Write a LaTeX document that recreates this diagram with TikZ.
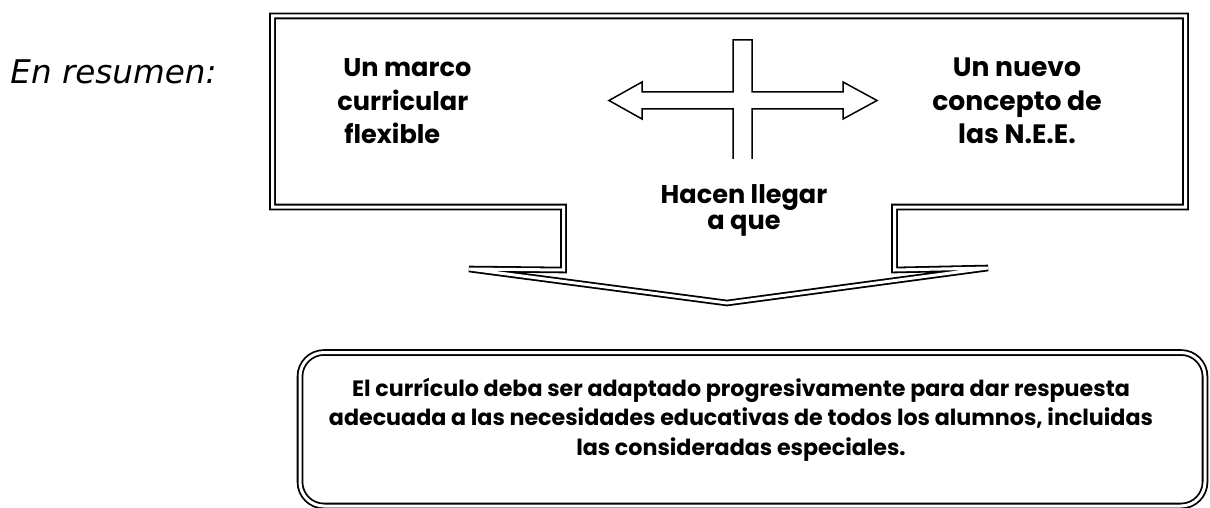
\documentclass[tikz,border=0pt]{standalone}
\usepackage{fontspec}
\setmainfont{Poppins}
\newfontfamily\resumenfont{DejaVu Sans}
\tikzset{
  dblline/.style={draw=black,line width=0.9pt,double=white,double distance=1.5pt,line join=miter,miter limit=2},
  crossline/.style={draw=black,line width=0.75pt,line join=miter},
  boxtext/.style={font=\bfseries\fontsize{12.8}{16.5}\selectfont,inner sep=0pt},
  restext/.style={font=\bfseries\fontsize{11.1}{14.7}\selectfont,inner sep=0pt,align=center}
}
\begin{document}
\begin{tikzpicture}[x=0.5pt,y=-0.5pt]
\useasboundingbox (0,0) rectangle (1210,508);
% the callout box with its arrow
\draw[dblline] (272.5,16) -- (1185.5,16) -- (1185.5,207) -- (894.5,207) -- (894.5,270)
  -- (988,268) -- (727,303) -- (469,269) -- (563.5,270) -- (563.5,207) -- (272.5,207) -- cycle;
% the cross with two heads
\draw[crossline] (733,159) -- (733,109) -- (642,109) -- (642,119) -- (609,100.5) -- (642,82)
  -- (642,92) -- (733,92) -- (733,40) -- (752,40) -- (752,92) -- (843,92) -- (843,82)
  -- (877,100.5) -- (843,119) -- (843,109) -- (752,109) -- (752,159);
% the result box
\draw[dblline,rounded corners=12pt] (300,352.5) rectangle (1205,506);
% texts
\node[anchor=base west,inner sep=0pt,font=\resumenfont\itshape\fontsize{16.3}{19}\selectfont] (resumen) at (10,84) {En resumen:};
\node[boxtext,anchor=base west,align=left] (marco) at (337,143) {\hspace{3pt}Un marco\\curricular\\\hspace{3.5pt}flexible};
\node[boxtext,anchor=base,align=center,font=\bfseries\fontsize{13.3}{16.5}\selectfont] (nee) at (1017,143) {Un nuevo\\concepto de\\las N.E.E.};
\node[boxtext,anchor=base,align=center,font=\bfseries\fontsize{12.8}{13}\selectfont] (llegar) at (744,229) {Hacen llegar\\a que};
\node[restext,anchor=base] (res) at (741,455) {El currículo deba ser adaptado progresivamente para dar respuesta\\adecuada a las necesidades educativas de todos los alumnos, incluidas\\las consideradas especiales.};
\end{tikzpicture}
\end{document}
